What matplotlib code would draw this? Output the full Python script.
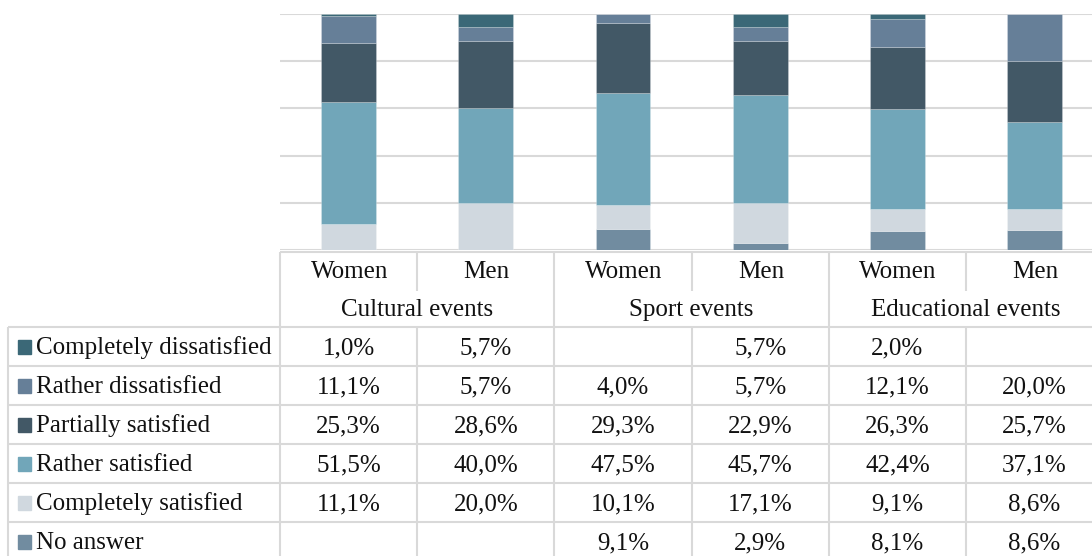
import numpy as np
import matplotlib
matplotlib.use("Agg")
import matplotlib.pyplot as plt

# ---------------- data ----------------
groups = ["Cultural events", "Sport events", "Educational events"]
genders = ["Women", "Men"]
series = ["Completely dissatisfied", "Rather dissatisfied", "Partially satisfied",
          "Rather satisfied", "Completely satisfied", "No answer"]
# values per bar: Cultural W, Cultural M, Sport W, Sport M, Edu W, Edu M (nan = blank)
completely_dissatisfied = [1.0, 5.7, np.nan, 5.7, 2.0, np.nan]
rather_dissatisfied = [11.1, 5.7, 4.0, 5.7, 12.1, 20.0]
partially_satisfied = [25.3, 28.6, 29.3, 22.9, 26.3, 25.7]
rather_satisfied = [51.5, 40.0, 47.5, 45.7, 42.4, 37.1]
completely_satisfied = [11.1, 20.0, 10.1, 17.1, 9.1, 8.6]
no_answer = [np.nan, np.nan, 9.1, 2.9, 8.1, 8.6]

colors = {
    "Completely dissatisfied": "#3b6877",
    "Rather dissatisfied": "#667f98",
    "Partially satisfied": "#425866",
    "Rather satisfied": "#71a6b9",
    "Completely satisfied": "#d0d8df",
    "No answer": "#718ca0",
}
values = {
    "Completely dissatisfied": completely_dissatisfied,
    "Rather dissatisfied": rather_dissatisfied,
    "Partially satisfied": partially_satisfied,
    "Rather satisfied": rather_satisfied,
    "Completely satisfied": completely_satisfied,
    "No answer": no_answer,
}

# ---------------- figure ----------------
W, H = 1092, 556
fig = plt.figure(figsize=(W / 100, H / 100), dpi=100)
plt.rcParams["font.family"] = ["Liberation Serif", "DejaVu Serif"]

ax_left = 280 / W
cat_px = 137.2
ax_w = 6 * cat_px / W
ax_bottom = (H - 250) / H
ax_top = (H - 14) / H
ax = fig.add_axes([ax_left, ax_bottom, ax_w, ax_top - ax_bottom])
ax.set_xlim(-0.5, 5.5)
ax.set_ylim(0, 100)
ax.set_yticks([0, 20, 40, 60, 80, 100])
ax.yaxis.grid(True, color="#d9d9d9", lw=1.5)
ax.set_axisbelow(True)
for s in ax.spines.values():
    s.set_visible(False)
ax.tick_params(left=False, bottom=False, labelleft=False, labelbottom=False)

x = np.arange(6)
bottom = np.zeros(6)
grid_color = "#d9d9d9"
for name in reversed(series):
    v = np.nan_to_num(np.array(values[name], dtype=float))
    ax.bar(x, v, bottom=bottom, width=0.40, color=colors[name],
           edgecolor=(1, 1, 1, 0.25), linewidth=0.6, zorder=3)
    bottom += v

# ---------------- data table (x shares the chart's data scale, y in pixels) ----------------
tax = fig.add_axes([ax_left, 0, ax_w, 1], sharex=ax, zorder=-1)
tax.set_ylim(H, 0)
tax.axis("off")
tax.patch.set_visible(False)

lw = 1.5
xl = -0.5 - (280 - 8) / cat_px  # left border of legend column
col_edges = np.arange(-0.5, 6.0, 1.0)
y_top = 252
y_hdr = 291
y_grp = 327
row_h = 39
row_edges = [y_grp + i * row_h for i in range(7)]
fs = 18
tc = "#111111"
base_off = 7.8

def hl(y, x0, x1):
    tax.plot([x0, x1], [y, y], color=grid_color, lw=lw, clip_on=False, solid_capstyle="butt")

def vl(xv, y0, y1):
    tax.plot([xv, xv], [y0, y1], color=grid_color, lw=lw, clip_on=False, solid_capstyle="butt")

# horizontal lines
hl(y_top, -0.5, 5.5)
for y in row_edges[:6]:
    hl(y, xl, 5.5)
# vertical lines
vl(xl, y_grp, H + 5)
for i, xe in enumerate(col_edges):
    if i % 2 == 0:
        vl(xe, y_top, H + 5)
    else:
        vl(xe, y_top, y_hdr)
        vl(xe, y_grp, H + 5)

# header text
for i in range(6):
    tax.text(x[i] + 0.005, (y_top + y_hdr) / 2 + base_off - 1, genders[i % 2], ha="center",
             va="baseline", fontsize=fs, color=tc, clip_on=False)
for g, name in enumerate(groups):
    tax.text(2 * g + 0.5, (y_hdr + y_grp) / 2 + base_off - 1, name, ha="center",
             va="baseline", fontsize=fs, color=tc, clip_on=False)

# rows
px = 1.0 / cat_px
for r, name in enumerate(series):
    yc = row_edges[r] + row_h / 2
    tax.add_patch(plt.Rectangle((xl + 9.5 * px, yc - 6.5), 13 * px, 13.5,
                                color=colors[name], clip_on=False))
    tax.text(xl + 28 * px, yc + base_off, name, ha="left", va="baseline", fontsize=fs,
             color=tc, clip_on=False)
    for i in range(6):
        v = values[name][i]
        if not np.isnan(v):
            tax.text(x[i], yc + base_off, f"{v:.1f}%".replace(".", ","), ha="center",
                     va="baseline", fontsize=fs, color=tc, clip_on=False)

fig.savefig("out.png", dpi=100)
